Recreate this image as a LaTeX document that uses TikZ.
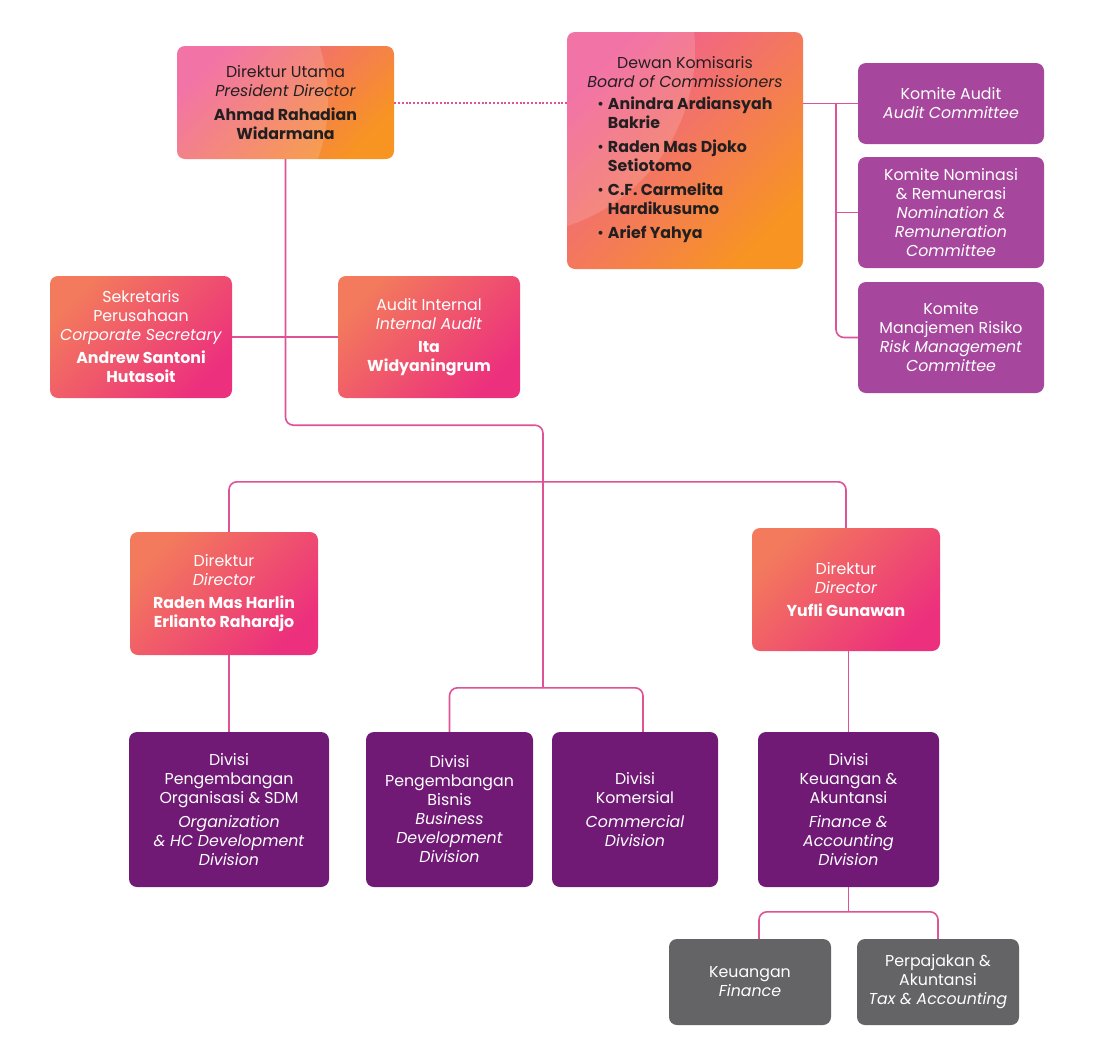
\documentclass[tikz,border=0pt]{standalone}
\usepackage{fontspec}
\setmainfont{Poppins}
\usepackage{tikz}
\usetikzlibrary{positioning,calc}

\definecolor{linkPink}{RGB}{222,82,150}
\definecolor{gradPink}{RGB}{240,92,152}
\definecolor{gradOrange}{RGB}{247,148,34}
\definecolor{gradCoral}{RGB}{243,122,92}
\definecolor{gradMagenta}{RGB}{236,48,125}
\definecolor{colKomite}{RGB}{166,70,156}
\definecolor{colDivisi}{RGB}{112,26,118}
\definecolor{colUnit}{RGB}{100,99,102}
\definecolor{inkDark}{RGB}{35,31,32}

\begin{document}
\begin{tikzpicture}[x=1pt, y=-1pt,
        base/.style={rectangle, rounded corners=8pt, align=center, inner sep=3pt, font=\fontsize{15.8}{19}\selectfont},
        board/.style={base, left color=gradPink, right color=gradOrange, shading angle=45, text=inkDark},
        staff/.style={base, left color=gradCoral, right color=gradMagenta, shading angle=45, text=white},
        komite/.style={base, fill=colKomite, text=white, minimum width=186},
        divisi/.style={base, fill=colDivisi, text=white, minimum height=155},
        unit/.style={base, fill=colUnit, text=white, minimum width=162, minimum height=86},
        shine/.style 2 args={path picture={\fill[white, opacity=0.15] ($(path picture bounding box.north west)+(#1)$) circle (#2);}},
        link/.style={draw=linkPink, line width=1.6pt, rounded corners=8pt},
        dotlink/.style={draw=linkPink, line width=2pt, dash pattern=on 2pt off 1.8pt}
    ]
    \useasboundingbox[fill=white] (0,0) rectangle (1093,1058);

    % Board level
    \node[board, shine={-27,54}{178pt}, minimum width=217, minimum height=113] (dirut) at (285.5,102.5) {Direktur Utama\\ \textit{President Director}\\[5pt] \textbf{Ahmad Rahadian}\\ \textbf{Widarmana}};
    \node[board, shine={-57,18}{185pt}, minimum width=236, minimum height=237] (dewan) at (685,150.5) {Dewan Komisaris\\ \textit{Board of Commissioners}\\[7pt]
        \begin{tabular}{@{}c@{\hspace{4pt}}l@{}}
        \textbullet & \textbf{Anindra Ardiansyah}\\ & \textbf{Bakrie}\\[5pt]
        \textbullet & \textbf{Raden Mas Djoko}\\ & \textbf{Setiotomo}\\[5pt]
        \textbullet & \textbf{C.F. Carmelita}\\ & \textbf{Hardikusumo}\\[5pt]
        \textbullet & \textbf{Arief Yahya}
        \end{tabular}};

    % Committees
    \node[komite, minimum height=81] (kAudit) at (951,103.5) {Komite Audit\\ \textit{Audit Committee}};
    \node[komite, minimum height=111] (kNom) at (951,212.5) {Komite Nominasi\\ \& Remunerasi\\ \textit{Nomination \&}\\ \textit{Remuneration}\\ \textit{Committee}};
    \node[komite, minimum height=111] (kRisk) at (951,337.5) {Komite\\ Manajemen Risiko\\ \textit{Risk Management}\\ \textit{Committee}};

    % Staff units
    \node[staff, minimum width=182, minimum height=122] (sekper) at (141,337) {Sekretaris\\ Perusahaan\\ \textit{Corporate Secretary}\\[4pt] \textbf{Andrew Santoni}\\ \textbf{Hutasoit}};
    \node[staff, minimum width=182, minimum height=122] (audit) at (429,337) {Audit Internal\\ \textit{Internal Audit}\\[4pt] \textbf{Ita}\\ \textbf{Widyaningrum}};

    % Directors
    \node[staff, minimum width=188, minimum height=123] (dirL) at (224,593.5) {Direktur\\ \textit{Director}\\[4pt] \textbf{Raden Mas Harlin}\\ \textbf{Erlianto Rahardjo}};
    \node[staff, minimum width=188, minimum height=123] (dirR) at (846,589.5) {Direktur\\ \textit{Director}\\[4pt] \textbf{Yufli Gunawan}};

    % Divisions
    \node[divisi, minimum width=200] (divSDM) at (229,809.5) {Divisi\\ Pengembangan\\ Organisasi \& SDM\\[5pt] \textit{Organization}\\ \textit{\& HC Development}\\ \textit{Division}};
    \node[divisi, minimum width=167] (divBis) at (449.5,809.5) {Divisi\\ Pengembangan\\ Bisnis\\ \textit{Business}\\ \textit{Development}\\ \textit{Division}};
    \node[divisi, minimum width=166] (divKom) at (635,809.5) {Divisi\\ Komersial\\[5pt] \textit{Commercial}\\ \textit{Division}};
    \node[divisi, minimum width=181] (divKeu) at (848.5,809.5) {Divisi\\ Keuangan \&\\ Akuntansi\\[5pt] \textit{Finance \&}\\ \textit{Accounting}\\ \textit{Division}};

    % Sub units
    \node[unit] (fin) at (750,982) {Keuangan\\ \textit{Finance}};
    \node[unit] (tax) at (938,982) {Perpajakan \&\\ Akuntansi\\ \textit{Tax \& Accounting}};

    % Connectors
    \coordinate (hubBisnis) at (543,688);
    \coordinate (busKomite) at (836,103.5);
    \draw[dotlink] (dirut.east) -- (dirut.east -| dewan.west);
    \draw[link] (dirut.south) -- ++(0,266) -| (hubBisnis);
    \draw[link] (sekper.east) -- (audit.west);
    \draw[link] (dirL.north -| divSDM.north) -- ++(0,-50) -| (dirR.north);
    \draw[link] (divSDM.north) -- (divSDM.north |- dirL.south);
    \draw[link] (divBis.north) -- ++(0,-44) -| ([xshift=8]divKom.north);
    \draw[link] (divKeu.north) -- (divKeu.north |- dirR.south);
    \draw[link] (divKeu.south) -- ++(0,25);
    \draw[link] ([xshift=9]fin.north) -- ++(0,-27) -| (tax.north);
    \draw[link] (dewan.east |- kAudit.west) -- (kAudit.west);
    \draw[link] (busKomite) |- (kRisk.west);
    \draw[link] (busKomite |- kNom.west) -- (kNom.west);
\end{tikzpicture}
\end{document}
